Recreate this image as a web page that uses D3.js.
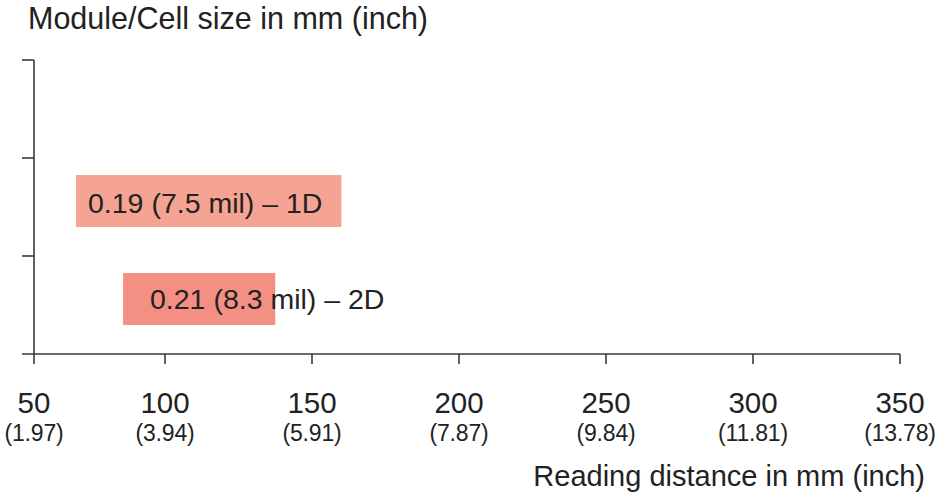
<!DOCTYPE html>
<html>
<head>
<meta charset="utf-8">
<script src="https://cdn.jsdelivr.net/npm/d3@7"></script>
<style>
  html, body { margin: 0; padding: 0; background: #fff; }
  svg { display: block; font-family: "Liberation Sans", Arial, sans-serif; }
</style>
</head>
<body>
<svg id="chart" width="940" height="498"></svg>
<script>
// ---- data ----
const categories = ["", "1D", "2D"];
const barLabels = ["", "0.19 (7.5 mil) \u2013 1D", "0.21 (8.3 mil) \u2013 2D"];
const barStart = [null, 66, 84];
const barEnd = [null, 160, 137.5];
const barColors = ["none", "#f5a392", "#f48f84"];
const xTicks = [50, 100, 150, 200, 250, 300, 350];
const xTickInch = ["(1.97)", "(3.94)", "(5.91)", "(7.87)", "(9.84)", "(11.81)", "(13.78)"];
const yTitle = "Module/Cell size in mm (inch)";
const xTitle = "Reading distance in mm (inch)";

// ---- layout ----
const svg = d3.select("#chart");
const axisColor = "#3a3a3a";
const textColor = "#222";

// broken-start axis: 50 sits at the y-axis, uniform from 100 onwards
const x = d3.scaleLinear().domain([50, 100, 350]).range([34, 165, 900]);
const y = d3.scaleBand().domain(categories).range([60, 354]).paddingInner(0.47).paddingOuter(0.235).align(0.37);
const yEdges = d3.scaleLinear().domain([0, 3]).range([60, 354]);

// y axis line + ticks
svg.append("line").attr("x1", x(50)).attr("x2", x(50)).attr("y1", yEdges(0)).attr("y2", yEdges(3))
  .attr("stroke", axisColor).attr("stroke-width", 1.6);
[0, 1, 2].forEach(i => {
  svg.append("line").attr("x1", x(50) - 12).attr("x2", x(50)).attr("y1", yEdges(i)).attr("y2", yEdges(i))
    .attr("stroke", axisColor).attr("stroke-width", 1.6);
});

// x axis
svg.append("line").attr("x1", x(50) - 12).attr("x2", x(350)).attr("y1", yEdges(3)).attr("y2", yEdges(3))
  .attr("stroke", axisColor).attr("stroke-width", 1.6);
xTicks.forEach((t, i) => {
  svg.append("line").attr("x1", x(t)).attr("x2", x(t)).attr("y1", yEdges(3)).attr("y2", yEdges(3) + 10)
    .attr("stroke", axisColor).attr("stroke-width", 1.6);
  svg.append("text").attr("x", x(t)).attr("y", 413).attr("text-anchor", "middle")
    .attr("font-size", 29.5).attr("fill", textColor).text(t);
  svg.append("text").attr("x", x(t)).attr("y", 441).attr("text-anchor", "middle")
    .attr("font-size", 23).attr("fill", textColor).attr("letter-spacing", -0.2).text(xTickInch[i]);
});

// bars
categories.forEach((c, i) => {
  if (barStart[i] == null) return;
  svg.append("rect").attr("x", x(barStart[i])).attr("width", x(barEnd[i]) - x(barStart[i]))
    .attr("y", y(c)).attr("height", y.bandwidth()).attr("fill", barColors[i]);
});

// bar labels
svg.append("text").attr("x", 88).attr("y", y("1D") + y.bandwidth() / 2 + 12)
  .attr("font-size", 28.5).attr("fill", textColor).text(barLabels[1]);
svg.append("text").attr("x", 150).attr("y", y("2D") + y.bandwidth() / 2 + 10)
  .attr("font-size", 28.5).attr("fill", textColor).text(barLabels[2]);

// titles
svg.append("text").attr("x", 28).attr("y", 29).attr("font-size", 30.5).attr("fill", textColor).text(yTitle);
svg.append("text").attr("x", 925).attr("y", 486).attr("text-anchor", "end")
  .attr("font-size", 29).attr("fill", textColor).text(xTitle);
</script>
</body>
</html>
